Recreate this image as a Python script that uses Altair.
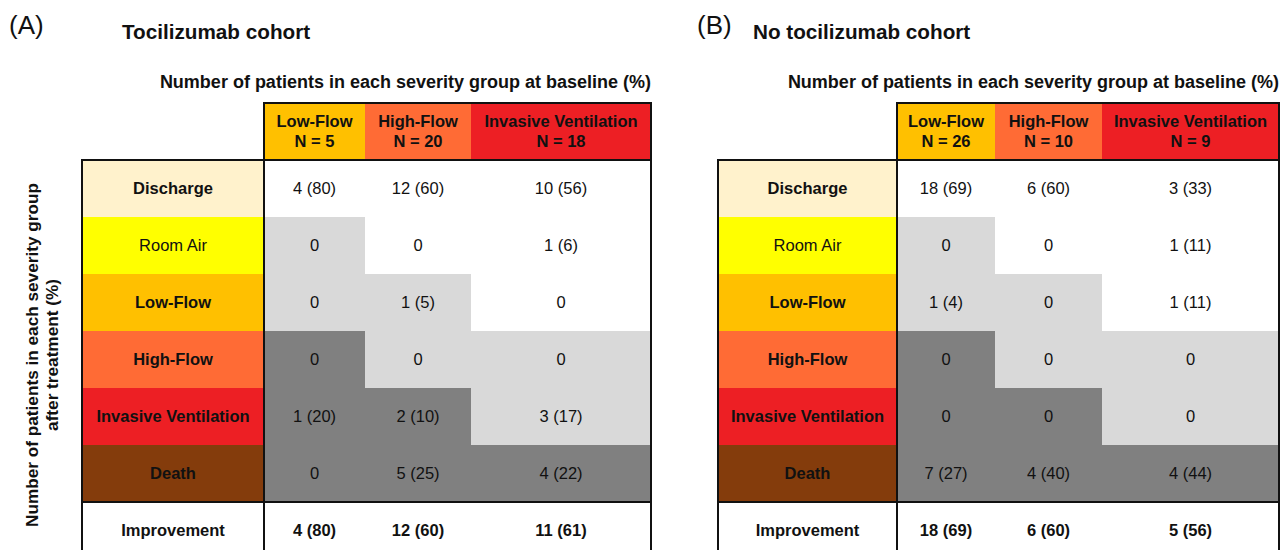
import altair as alt
import pandas as pd

# ---------------- data ----------------
OUTCOMES = ["Discharge", "Room Air", "Low-Flow", "High-Flow", "Invasive Ventilation", "Death"]
BASELINE = ["Low-Flow", "High-Flow", "Invasive Ventilation"]

TOCI_N = [5, 20, 18]
TOCI_COUNTS = [[4, 12, 10], [0, 0, 1], [0, 1, 0], [0, 0, 0], [1, 2, 3], [0, 5, 4]]
TOCI_PCTS = [[80, 60, 56], [0, 0, 6], [0, 5, 0], [0, 0, 0], [20, 10, 17], [0, 25, 22]]
TOCI_IMPROVE = [4, 12, 11]
TOCI_IMPROVE_PCT = [80, 60, 61]

NOTOCI_N = [26, 10, 9]
NOTOCI_COUNTS = [[18, 6, 3], [0, 0, 1], [1, 0, 1], [0, 0, 0], [0, 0, 0], [7, 4, 4]]
NOTOCI_PCTS = [[69, 60, 33], [0, 0, 11], [4, 0, 11], [0, 0, 0], [0, 0, 0], [27, 40, 44]]
NOTOCI_IMPROVE = [18, 6, 5]
NOTOCI_IMPROVE_PCT = [69, 60, 56]

PANEL_LETTERS = ["(A)", "(B)"]
PANEL_TITLES = ["Tocilizumab cohort", "No tocilizumab cohort"]
COL_TITLE = "Number of patients in each severity group at baseline (%)"
ROW_TITLE = ["Number of patients in each severity group", "after treatment (%)"]
IMPROVE_LABEL = "Improvement"

# ---------------- styles ----------------
SEVERITY_COLORS = {
    "Discharge": "#FFF2CC",
    "Room Air": "#FFFF00",
    "Low-Flow": "#FFC000",
    "High-Flow": "#FF6B35",
    "Invasive Ventilation": "#ED1F24",
    "Death": "#843C0C",
}
SHADE_COLORS = {"white": "#FFFFFF", "light": "#D9D9D9", "dark": "#808080"}
FONT = "Liberation Sans"
INK = "#111111"
CELL_FS = 16.5

# ---------------- layout (chart units) ----------------
W, H = 1272, 542
PANEL_LEFT = [74, 710]
COL_WIDTHS = [[182, 101, 106, 180], [179, 98, 107, 177]]
HEADER_TOP = 95
ROW_H = 57
HEADER_LH = 20
LETTER_X = [1, 689]
LETTER_Y = 26
TITLE_X = [114, 745]
TITLE_Y = 31
COLTITLE_Y = 80
ROWTITLE_X = [25, 45]
ROWTITLE_Y = 347

panels = [
    dict(n=TOCI_N, counts=TOCI_COUNTS, pcts=TOCI_PCTS, imp=TOCI_IMPROVE, imp_pct=TOCI_IMPROVE_PCT),
    dict(n=NOTOCI_N, counts=NOTOCI_COUNTS, pcts=NOTOCI_PCTS, imp=NOTOCI_IMPROVE, imp_pct=NOTOCI_IMPROVE_PCT),
]


def row_top(i):
    return HEADER_TOP + i * ROW_H


def fmt(c, p):
    return f"{c} ({p})" if c else "0"


rects, texts, lines, annos = [], [], [], []
for p, panel in enumerate(panels):
    edges = [PANEL_LEFT[p]]
    for w in COL_WIDTHS[p]:
        edges.append(edges[-1] + w)
    # header row
    for c, name in enumerate(BASELINE):
        rects.append(dict(x=edges[c + 1], x2=edges[c + 2], y=row_top(0), y2=row_top(1),
                          fill=SEVERITY_COLORS[name]))
        texts.append(dict(x=(edges[c + 1] + edges[c + 2]) / 2, y=row_top(0.5),
                          text=f"{name}\nN = {panel['n'][c]}", kind="header"))
    # outcome rows
    for r, name in enumerate(OUTCOMES):
        i = r + 1
        rects.append(dict(x=edges[0], x2=edges[1], y=row_top(i), y2=row_top(i + 1),
                          fill=SEVERITY_COLORS[name]))
        texts.append(dict(x=(edges[0] + edges[1]) / 2, y=row_top(i + 0.5), text=name,
                          kind="regular" if name == "Room Air" else "bold"))
        for c, b in enumerate(BASELINE):
            bi = OUTCOMES.index(b)
            shade = "white" if r < bi - 1 else ("light" if r <= bi else "dark")
            rects.append(dict(x=edges[c + 1], x2=edges[c + 2], y=row_top(i), y2=row_top(i + 1),
                              fill=SHADE_COLORS[shade]))
            texts.append(dict(x=(edges[c + 1] + edges[c + 2]) / 2, y=row_top(i + 0.5),
                              text=fmt(panel["counts"][r][c], panel["pcts"][r][c]), kind="regular"))
    # improvement row
    i = len(OUTCOMES) + 1
    texts.append(dict(x=(edges[0] + edges[1]) / 2, y=row_top(i + 0.5), text=IMPROVE_LABEL, kind="bold"))
    for c in range(len(BASELINE)):
        texts.append(dict(x=(edges[c + 1] + edges[c + 2]) / 2, y=row_top(i + 0.5),
                          text=fmt(panel["imp"][c], panel["imp_pct"][c]), kind="bold"))
    # borders
    t0, t1, ti, tb = row_top(0), row_top(1), row_top(i), row_top(i + 1)
    lines += [
        dict(x=edges[1], x2=edges[-1], y=t0, y2=t0),
        dict(x=edges[0], x2=edges[-1], y=t1, y2=t1),
        dict(x=edges[0], x2=edges[-1], y=ti, y2=ti),
        dict(x=edges[0], x2=edges[0], y=t1, y2=tb),
        dict(x=edges[1], x2=edges[1], y=t0, y2=tb),
        dict(x=edges[-1], x2=edges[-1], y=t0, y2=tb),
    ]
    # annotations
    annos.append(dict(x=LETTER_X[p], y=LETTER_Y, text=PANEL_LETTERS[p], kind="letter"))
    annos.append(dict(x=TITLE_X[p], y=TITLE_Y, text=PANEL_TITLES[p], kind="title"))
    annos.append(dict(x=edges[-1], y=COLTITLE_Y, text=COL_TITLE, kind="coltitle"))

for k, line in enumerate(ROW_TITLE):
    annos.append(dict(x=ROWTITLE_X[k], y=ROWTITLE_Y, text=line, kind="rowtitle"))

rect_df = pd.DataFrame(rects)
text_df = pd.DataFrame(texts)
line_df = pd.DataFrame(lines)
anno_df = pd.DataFrame(annos)

xs = alt.Scale(domain=[0, W], nice=False, zero=False)
ys = alt.Scale(domain=[0, H], nice=False, zero=False, reverse=True)
X = alt.X("x:Q", scale=xs, axis=None)
Y = alt.Y("y:Q", scale=ys, axis=None)

cells = alt.Chart(rect_df).mark_rect(clip=True, strokeWidth=0).encode(
    x=X, x2="x2:Q", y=Y, y2="y2:Q", fill=alt.Fill("fill:N", scale=None)
)
borders = alt.Chart(line_df).mark_rule(clip=True, strokeWidth=2, color=INK, strokeCap="square").encode(
    x=X, x2="x2:Q", y=Y, y2="y2:Q"
)


def txt(df, kind, **kw):
    return alt.Chart(df).transform_filter(alt.datum.kind == kind).mark_text(
        font=FONT, color=INK, **kw
    ).encode(x=X, y=Y, text="text:N")


layers = [
    cells,
    borders,
    txt(text_df, "regular", fontSize=CELL_FS, fontWeight="normal", align="center", baseline="middle"),
    txt(text_df, "bold", fontSize=CELL_FS, fontWeight="bold", align="center", baseline="middle"),
    txt(text_df, "header", fontSize=CELL_FS, fontWeight="bold", align="center", baseline="middle",
        lineBreak="\n", lineHeight=HEADER_LH, dy=-HEADER_LH / 2),
    txt(anno_df, "letter", fontSize=26, fontWeight="normal", align="left", baseline="alphabetic"),
    txt(anno_df, "title", fontSize=20.7, fontWeight="bold", align="left", baseline="alphabetic"),
    txt(anno_df, "coltitle", fontSize=18, fontWeight="bold", align="right", baseline="alphabetic"),
    txt(anno_df, "rowtitle", fontSize=17.2, fontWeight="bold", align="center", baseline="middle", angle=270),
]

chart = alt.layer(*layers).properties(
    width=W, height=H, padding=0, autosize=alt.AutoSizeParams(type="none"), background="white"
).configure_view(stroke=None)

chart.save("out.html", embed_options={"renderer": "svg", "actions": False})
